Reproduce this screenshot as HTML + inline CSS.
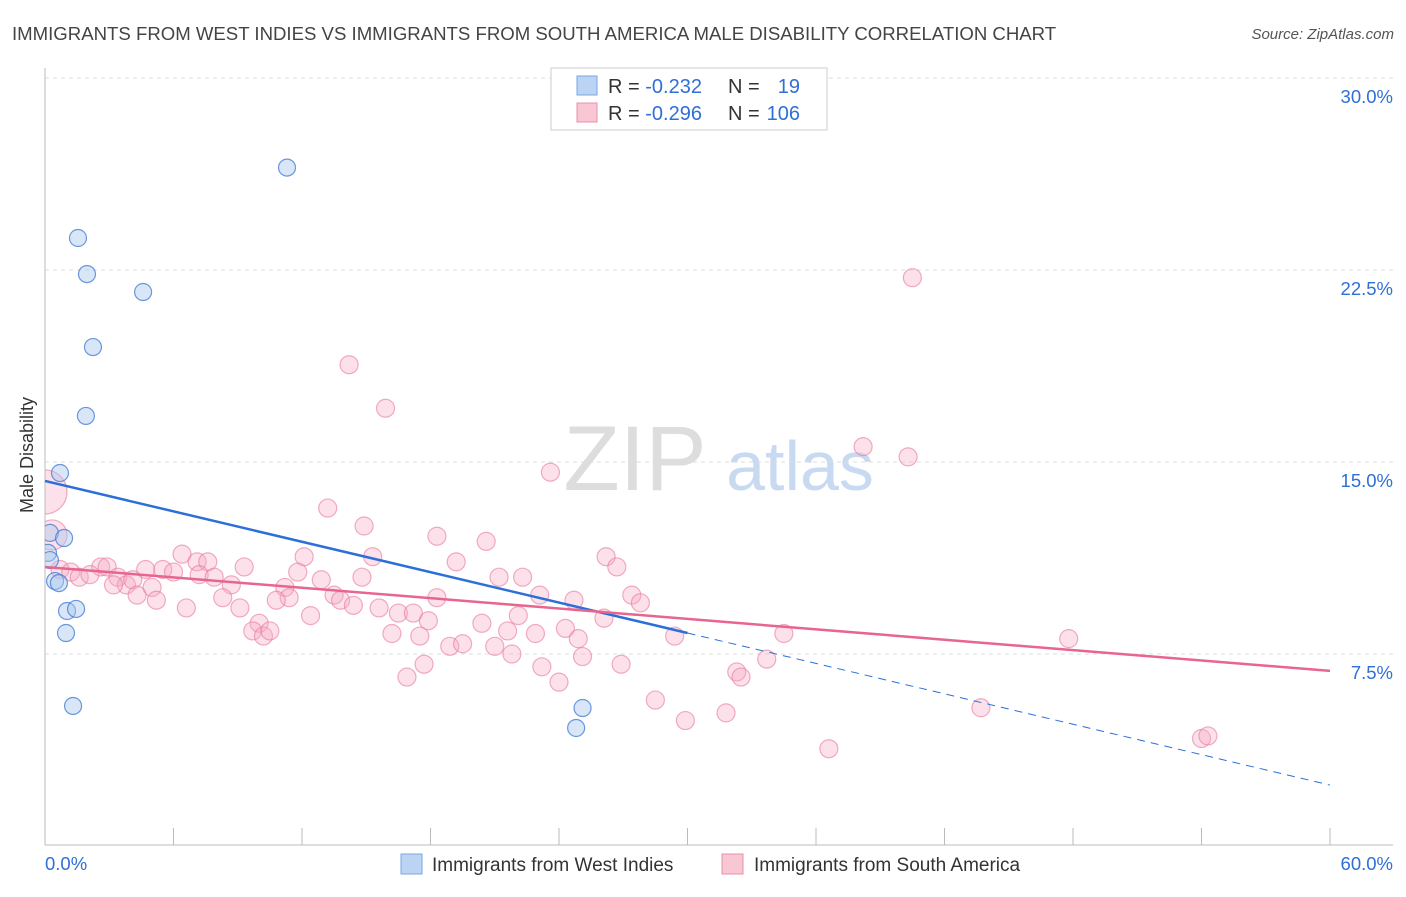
<!DOCTYPE html>
<html><head><meta charset="utf-8">
<style>
body{margin:0;background:#fff;font-family:"Liberation Sans",sans-serif;}
svg text{font-family:"Liberation Sans",sans-serif;}
</style></head>
<body>
<svg id="chart" width="1406" height="892" xmlns="http://www.w3.org/2000/svg">
<defs><clipPath id="plotclip"><rect x="45" y="60" width="1360" height="786"/></clipPath></defs>
<text x="12" y="40" font-size="18.6" fill="#444">IMMIGRANTS FROM WEST INDIES VS IMMIGRANTS FROM SOUTH AMERICA MALE DISABILITY CORRELATION CHART</text>
<text x="1394" y="39" font-size="15" fill="#555" text-anchor="end" font-style="italic">Source: ZipAtlas.com</text>
<g>
<text x="635" y="490" font-size="92" fill="#ddd" text-anchor="middle" font-family="Liberation Serif, serif">ZIP</text>
<text x="800" y="490" font-size="70" fill="#c8daf2" text-anchor="middle">atlas</text>
</g>
<g id="grid"></g>
<g id="axes"></g>
<g id="points" clip-path="url(#plotclip)"></g>
<g id="trends"></g>
<text transform="translate(33,455) rotate(-90)" font-size="18" fill="#333" text-anchor="middle">Male Disability</text>
<g>
<rect x="551" y="68" width="276" height="62" fill="#fff" stroke="#ccc"/>
<rect x="577" y="76" width="20" height="19" fill="#bcd4f4" stroke="#7aa6e0"/>
<text x="608" y="93" font-size="20" fill="#333">R = <tspan fill="#2f6fd6">-0.232</tspan></text>
<text x="728" y="93" font-size="20" fill="#333">N =</text>
<text x="800" y="93" font-size="20" fill="#2f6fd6" text-anchor="end">19</text>
<rect x="577" y="103" width="20" height="19" fill="#f9c6d4" stroke="#e890aa"/>
<text x="608" y="120" font-size="20" fill="#333">R = <tspan fill="#2f6fd6">-0.296</tspan></text>
<text x="728" y="120" font-size="20" fill="#333">N =</text>
<text x="800" y="120" font-size="20" fill="#2f6fd6" text-anchor="end">106</text>
</g>
<g>
<rect x="401" y="854" width="21" height="20" fill="#bcd4f4" stroke="#7aa6e0"/>
<text x="432" y="871" font-size="19" fill="#333">Immigrants from West Indies</text>
<rect x="722" y="854" width="21" height="20" fill="#f9c6d4" stroke="#e890aa"/>
<text x="754" y="871" font-size="19" fill="#333">Immigrants from South America</text>
</g>
</svg>
<script>
const yTicks=[7.5,15,22.5,30];
const yTickLabels=["7.5%","15.0%","22.5%","30.0%"];
const xTicks=[0,6,12,18,24,30,36,42,48,54,60];
const xTickLabels=["0.0%","60.0%"];
const blueX=[11.3,1.54,1.96,4.58,2.24,1.91,0.70,0.23,0.89,0.14,0.47,0.65,1.03,1.45,0.98,1.31,25.1,24.8,0.23];
const blueY=[26.5,23.75,22.34,21.64,19.49,16.8,14.57,12.23,12.03,11.45,10.35,10.27,9.18,9.26,8.32,5.47,5.39,4.61,11.17];
const pinkX=[0,0.33,40.5,14.2,15.9,38.2,40.3,23.6,13.2,14.9,18.3,20.6,12.1,15.3,19.2,26.2,26.7,6.4,7.1,7.6,9.3,2.6,2.9,4.7,5.5,6.0,7.2,7.9,11.8,12.9,14.8,21.2,22.3,0.7,1.2,1.6,2.1,3.4,3.8,4.1,3.2,5.0,8.7,11.2,13.5,11.4,8.3,5.2,4.3,13.8,23.1,24.7,27.4,27.8,6.6,9.1,10.8,14.4,15.6,16.5,17.2,18.3,12.4,17.9,22.1,26.1,10.0,9.7,10.2,10.5,16.2,17.5,20.4,21.6,22.9,24.3,24.9,29.4,34.5,47.8,18.9,19.5,21.0,21.8,25.1,33.7,26.9,23.2,17.7,16.9,24.0,32.3,32.5,28.5,29.9,31.8,43.7,36.6,54.0,54.3];
const pinkY=[13.83,12.15,22.2,18.8,17.1,15.6,15.2,14.6,13.2,12.5,12.1,11.9,11.3,11.3,11.1,11.3,10.9,11.4,11.1,11.1,10.9,10.9,10.9,10.8,10.8,10.7,10.6,10.5,10.7,10.4,10.5,10.5,10.5,10.8,10.7,10.5,10.6,10.5,10.2,10.4,10.2,10.1,10.2,10.1,9.8,9.7,9.7,9.6,9.8,9.6,9.8,9.6,9.8,9.5,9.3,9.3,9.6,9.4,9.3,9.1,9.1,9.7,9.0,8.8,9.0,8.9,8.7,8.4,8.2,8.4,8.3,8.2,8.7,8.4,8.3,8.5,8.1,8.2,8.3,8.1,7.8,7.9,7.8,7.5,7.4,7.3,7.1,7.0,7.1,6.6,6.4,6.8,6.6,5.7,4.9,5.2,5.4,3.8,4.2,4.3];
const pinkR=[22,15];
const blueTrend=[14.26,2.38], blueSolidEnd=30;
const pinkTrend=[10.9,6.84];
const NS="http://www.w3.org/2000/svg";
const X=v=>45+v/60*1285, Y=v=>846-v*25.6;
function mk(p,t,a){const e=document.createElementNS(NS,t);for(const k in a)e.setAttribute(k,a[k]);p.appendChild(e);return e;}
const grid=document.getElementById('grid'),axes=document.getElementById('axes'),pts=document.getElementById('points'),tr=document.getElementById('trends');
yTicks.forEach((t,i)=>{
 const l=mk(grid,'line',{x1:45,x2:1393,y1:Y(t),y2:Y(t),stroke:'#ddd','stroke-dasharray':'4,4'});
 
 
 const tx=mk(axes,'text',{x:1393,y:Y(t)+25,'font-size':18.5,fill:'#2f6fd6','text-anchor':'end'});
 tx.textContent=yTickLabels[i];
 
 
});
const ax=mk(axes,'line',{x1:45,x2:1393,y1:845,y2:845,stroke:'#bbb'});


const ay=mk(axes,'line',{x1:45,x2:45,y1:68,y2:845,stroke:'#bbb'});


xTicks.forEach(t=>{
 const l=mk(axes,'line',{x1:X(t),x2:X(t),y1:828,y2:845,stroke:'#bbb'});
 
 
});
[[0,'start',45],[60,'end',1393]].forEach((d,i)=>{
 const tx=mk(axes,'text',{x:d[2],y:870,'font-size':18.5,fill:'#2f6fd6','text-anchor':d[1]});
 tx.textContent=xTickLabels[i];
 
 
});
pinkX.forEach((x,i)=>{
 const c=mk(pts,'circle',{cx:X(x),cy:Y(pinkY[i]),r:pinkR[i]||9,fill:'rgba(246,170,195,0.35)',stroke:'rgba(232,120,155,0.6)','stroke-width':1.2});
 
 
});
blueX.forEach((x,i)=>{
 const c=mk(pts,'circle',{cx:X(x),cy:Y(blueY[i]),r:8.5,fill:'rgba(170,200,240,0.45)',stroke:'rgba(60,120,210,0.75)','stroke-width':1.2});
 
 
});
const by=x=>blueTrend[0]+(blueTrend[1]-blueTrend[0])*x/60;
const b1=mk(tr,'line',{x1:X(0),y1:Y(by(0)),x2:X(blueSolidEnd),y2:Y(by(blueSolidEnd)),stroke:'#2c6fd8','stroke-width':2.5});


const b2=mk(tr,'line',{x1:X(blueSolidEnd),y1:Y(by(blueSolidEnd)),x2:X(60),y2:Y(by(60)),stroke:'#2c6fd8','stroke-width':1,'stroke-dasharray':'8,6'});


const p1=mk(tr,'line',{x1:X(0),y1:Y(pinkTrend[0]),x2:X(60),y2:Y(pinkTrend[1]),stroke:'#e8658e','stroke-width':2.5});


</script>
</body></html>
